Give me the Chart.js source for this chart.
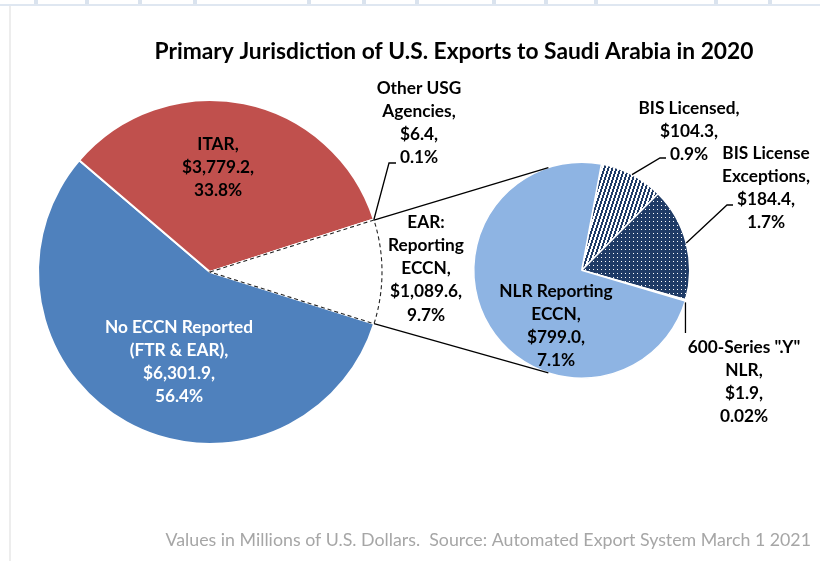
<!DOCTYPE html>
<html><head><meta charset="utf-8">
<script src="https://cdn.jsdelivr.net/npm/chart.js@4.4.1/dist/chart.umd.min.js"></script>
<style>
html,body{margin:0;padding:0;background:#fff;}
#wrap{position:relative;width:820px;height:561px;overflow:hidden;background:#fff;}
#wrap canvas{position:absolute;left:0;top:0;}
.dv{position:absolute;top:0;height:4px;width:4px;background:#dae3ee;}
</style></head><body>
<div id="wrap">
  <div id="band" style="position:absolute;left:0;top:4px;width:820px;height:2px;background:#dfe7f1;"></div>
  <div style="position:absolute;left:9px;top:6px;width:2px;height:555px;background:#ededed;"></div>
  <canvas id="c1" width="820" height="561"></canvas>
  <canvas id="c2" width="820" height="561"></canvas>
</div>
<script>
// ---------- DATA ----------
const mainCategories = [['No ECCN Reported','(FTR & EAR)'], ['ITAR'], ['Other USG','Agencies'], ['EAR:','Reporting','ECCN']];
const mainValues = [6301.9, 3779.2, 6.4, 1089.6];
const mainPercents = ['56.4%', '33.8%', '0.1%', '9.7%'];

const subCategories = [['BIS Licensed'], ['BIS License','Exceptions'], ['600-Series ".Y"','NLR'], ['NLR Reporting','ECCN']];
const subValues = [104.3, 184.4, 1.9, 799.0];
const subPercents = ['0.9%', '1.7%', '0.02%', '7.1%'];

const titleText = 'Primary Jurisdiction of U.S. Exports to Saudi Arabia in 2020';
const footerText = 'Values in Millions of U.S. Dollars.  Source: Automated Export System March 1 2021';

// ---------- header strip ----------
[36,87,140,195,309,364,417,494,546,596,716,770].forEach(x=>{
  const d=document.createElement('div'); d.className='dv'; d.style.left=(x-2)+'px';
  document.getElementById('wrap').appendChild(d);
});

// ---------- patterns ----------
const NAVY = '#1F3B66';
function stripePattern(){
  const p=document.createElement('canvas'); p.width=4; p.height=12;
  const g=p.getContext('2d'); g.fillStyle='#ffffff'; g.fillRect(0,0,4,12);
  g.fillStyle=NAVY;
  for(let y=0;y<12;y++){
    const x=((3-Math.floor(y/3))%4+4)%4;
    g.fillRect(x,y,1,1); g.fillRect((x+1)%4,y,1,1);
  }
  return g.createPattern(p,'repeat');
}
function dotPattern(){
  const p=document.createElement('canvas'); p.width=4; p.height=4;
  const g=p.getContext('2d'); g.fillStyle=NAVY; g.fillRect(0,0,4,4);
  g.fillStyle='#ffffff'; g.fillRect(1,1,1,1);
  return g.createPattern(p,'repeat');
}

const FAMILY = 'Lato, "Open Sans", sans-serif';
function fitSize(ctx, text, weight, target){
  ctx.font = weight+' 100px '+FAMILY;
  return 100*target/ctx.measureText(text).width;
}
function fmtVal(v){ return '$'+v.toLocaleString('en-US',{minimumFractionDigits:1,maximumFractionDigits:1})+','; }
function labelLines(cat, v, pct){
  const l = cat.slice(); l[l.length-1] = l[l.length-1]+','; 
  if (l[0]==='EAR:') { /* keep */ }
  return l.concat([fmtVal(v), pct]);
}
function edgePoint(el, r){
  const p = el.getProps(['x','y','startAngle','endAngle','outerRadius'], true);
  const a = (p.startAngle+p.endAngle)/2; const rr = r===undefined ? p.outerRadius : r;
  return {x:p.x+rr*Math.cos(a), y:p.y+rr*Math.sin(a)};
}

// ---------- main pie ----------
const earDash = {
  id:'earDash',
  afterDatasetsDraw(chart){
    const ctx=chart.ctx; const el=chart.getDatasetMeta(0).data[3];
    const p=el.getProps(['x','y','startAngle','endAngle','outerRadius'], true);
    ctx.save(); ctx.strokeStyle='#222'; ctx.lineWidth=1.1; ctx.setLineDash([4,3]);
    ctx.beginPath(); ctx.moveTo(p.x,p.y); ctx.arc(p.x,p.y,p.outerRadius,p.startAngle,p.endAngle); ctx.closePath(); ctx.stroke();
    ctx.restore();
  }
};
const chart1 = new Chart(document.getElementById('c1'), {
  type:'pie',
  data:{ labels: mainCategories.map(c=>c.join(' ')),
    datasets:[{ data: mainValues,
      backgroundColor:['#4F81BD','#C0504D','#9BBB59','#FFFFFF'],
      borderColor:['#ffffff','#ffffff','#ffffff','rgba(0,0,0,0)'],
      borderWidth:2 }]},
  options:{ responsive:false, animation:false, events:[], rotation:107.5,
    layout:{padding:{left:37,top:99,right:437,bottom:116}},
    plugins:{legend:{display:false}, tooltip:{enabled:false}} },
  plugins:[earDash]
});

// ---------- secondary pie + annotations ----------
const overlay = {
  id:'overlay',
  afterDraw(chart){
    const ctx=chart.ctx;
    const m = chart1.getDatasetMeta(0).data;
    const s = chart.getDatasetMeta(0).data;
    ctx.save();
    // connectors
    const ear = m[3].getProps(['x','y','startAngle','endAngle','outerRadius'], true);
    const sp = s[0].getProps(['x','y','outerRadius'], true);
    const up = {x:ear.x+ear.outerRadius*Math.cos(ear.startAngle), y:ear.y+ear.outerRadius*Math.sin(ear.startAngle)};
    const lo = {x:ear.x+ear.outerRadius*Math.cos(ear.endAngle), y:ear.y+ear.outerRadius*Math.sin(ear.endAngle)};
    const a1 = -108*Math.PI/180, a2 = 108*Math.PI/180;
    ctx.strokeStyle='#000'; ctx.lineWidth=1.3;
    ctx.beginPath(); ctx.moveTo(up.x,up.y); ctx.lineTo(sp.x+sp.outerRadius*Math.cos(a1), sp.y+sp.outerRadius*Math.sin(a1)); ctx.stroke();
    ctx.beginPath(); ctx.moveTo(lo.x,lo.y); ctx.lineTo(sp.x+sp.outerRadius*Math.cos(a2), sp.y+sp.outerRadius*Math.sin(a2)); ctx.stroke();
    // leader lines
    ctx.lineWidth=1.3;
    const o = edgePoint(m[2]);
    ctx.beginPath(); ctx.moveTo(o.x,o.y); ctx.lineTo(389,163); ctx.lineTo(396,163); ctx.stroke();
    const b = edgePoint(s[0]);
    ctx.beginPath(); ctx.moveTo(b.x,b.y); ctx.lineTo(660,158); ctx.lineTo(666,158); ctx.stroke();
    const e = edgePoint(s[1]);
    ctx.beginPath(); ctx.moveTo(e.x,e.y); ctx.lineTo(727,205); ctx.lineTo(733,205); ctx.stroke();
    const y6 = edgePoint(s[2]);
    ctx.beginPath(); ctx.moveTo(y6.x,y6.y+2); ctx.lineTo(y6.x,333); ctx.stroke();

    // text
    ctx.textAlign='center'; ctx.textBaseline='middle';
    const ts = fitSize(ctx, titleText, 'bold', 599);
    ctx.font='bold '+ts.toFixed(2)+'px '+FAMILY; ctx.fillStyle='#000';
    ctx.fillText(titleText, 454, 52);

    const ls = fitSize(ctx, 'No ECCN Reported', 'bold', 148);
    ctx.font='bold '+ls.toFixed(2)+'px '+FAMILY;
    const LH = 23.3;
    const draw=(lines,cx,y0,col)=>{ ctx.fillStyle=col; lines.forEach((t,i)=>ctx.fillText(t,cx,y0+i*LH)); };
    const mainPos=[[179,327,'#ffffff'],[218,144,'#000'],[419,88,'#000'],[426,222,'#000']];
    mainCategories.forEach((c,i)=>draw(labelLines(c,mainValues[i],mainPercents[i]), mainPos[i][0], mainPos[i][1], mainPos[i][2]));
    const subPos=[[689,108,'#000'],[766,153,'#000'],[744,347,'#000'],[556,291,'#000']];
    subCategories.forEach((c,i)=>draw(labelLines(c,subValues[i],subPercents[i]), subPos[i][0], subPos[i][1], subPos[i][2]));

    const fs = fitSize(ctx, footerText, 'normal', 646);
    ctx.font='normal '+fs.toFixed(2)+'px '+FAMILY; ctx.fillStyle='#a6a6a6'; ctx.textAlign='right';
    ctx.fillText(footerText, 811, 540);
    ctx.restore();
  }
};
const c2 = document.getElementById('c2');
const chart2 = new Chart(c2, {
  type:'pie',
  data:{ labels: subCategories.map(c=>c.join(' ')),
    datasets:[{ data: subValues,
      backgroundColor:[stripePattern(), dotPattern(), NAVY, '#8EB4E3'],
      borderColor:'#ffffff', borderWidth:1.5 }]},
  options:{ responsive:false, animation:false, events:[], rotation:10.5,
    layout:{padding:{left:473,top:161.5,right:129.5,bottom:182}},
    plugins:{legend:{display:false}, tooltip:{enabled:false}} },
  plugins:[overlay]
});
</script>
</body></html>
